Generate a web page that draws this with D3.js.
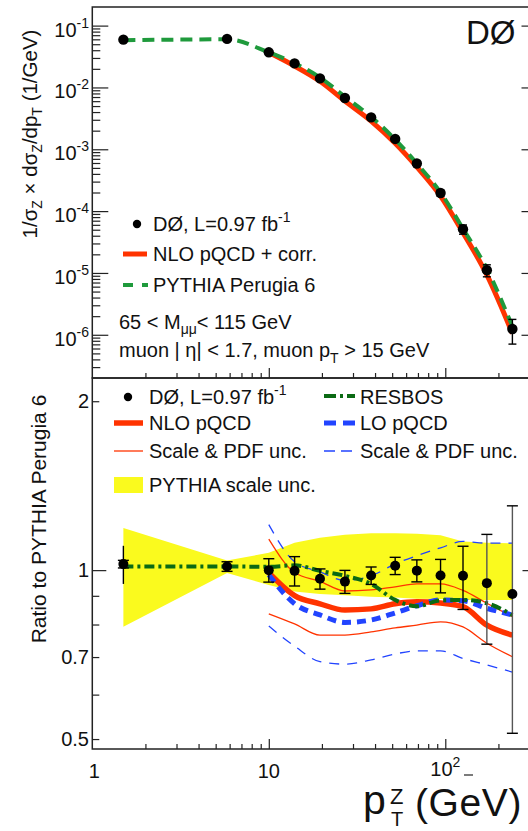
<!DOCTYPE html>
<html>
<head>
<meta charset="utf-8">
<script src="https://cdn.jsdelivr.net/npm/d3@7"></script>
<style>
  body { margin: 0; background: #fff; }
  svg text { font-family: "Liberation Sans", Arial, Helvetica, sans-serif; fill: #111; }
</style>
</head>
<body>
<div id="container"><svg></svg></div>
<script>
let width = 528;
let height = 831;

// bin centres (GeV)
let pt = [1.5, 5.8, 10, 14, 19.5, 27, 38, 52, 69, 94, 126, 172, 240];
// top panel: normalised cross section, data + relative errors
let xsec = [0.0593, 0.061, 0.037, 0.0245, 0.0140, 0.00676, 0.00328, 0.00147, 5.9e-4, 1.96e-4, 5.1e-5, 1.11e-5, 1.24e-6];
let xsecErr = [0.01, 0.01, 0.02, 0.02, 0.02, 0.03, 0.03, 0.04, 0.05, 0.11, 0.17, 0.22, 0.43];
let pythiaTop = [0.0579, 0.060, 0.037, 0.0246, 0.0145, 0.00709, 0.00335, 0.00144, 5.9e-4, 2.0e-4, 5.2e-5, 1.17e-5, 1.37e-6];
// theory curves only from 10 GeV
let ptNlo = [10, 14, 19.5, 27, 38, 52, 69, 94, 126, 172, 240];
let nloTop = [0.0366, 0.0222, 0.0126, 0.00602, 0.00286, 0.00125, 5.18e-4, 1.75e-4, 4.48e-5, 9.3e-6, 1.05e-6];

// bottom panel: ratio to PYTHIA Perugia 6
let ratio = [1.025, 1.015, 1.0, 0.997, 0.965, 0.954, 0.978, 1.018, 0.998, 0.978, 0.977, 0.948, 0.907];
let ratioErr = [0.08, 0.02, 0.048, 0.06, 0.04, 0.045, 0.035, 0.036, 0.045, 0.067, 0.126, 0.21, 0.395];
let ratioStat = [0.016, 0.02, 0.048, 0.06, 0.04, 0.045, 0.035, 0.036, 0.045, 0.067, 0.126, 0.21, 0.395];
let bandHi = [1.189, 1.04, 1.074, 1.119, 1.142, 1.156, 1.163, 1.164, 1.161, 1.154, 1.125, 1.119, 1.117];
let bandLo = [0.793, 0.988, 0.941, 0.916, 0.907, 0.902, 0.897, 0.894, 0.889, 0.888, 0.885, 0.885, 0.885];
let resbos = [1.015, 1.015, 1.014, 1.02, 0.997, 0.977, 0.945, 0.885, 0.862, 0.883, 0.885, 0.873, 0.832];
let nloRatio = [0.99, 0.901, 0.871, 0.849, 0.853, 0.871, 0.878, 0.874, 0.861, 0.798, 0.766];
let nloHi = [1.136, 0.99, 0.955, 0.918, 0.922, 0.934, 0.945, 0.945, 0.920, 0.873, 0.826];
let nloLo = [0.836, 0.802, 0.766, 0.766, 0.776, 0.789, 0.798, 0.809, 0.792, 0.741, 0.701];
let loRatio = [0.981, 0.871, 0.832, 0.807, 0.815, 0.839, 0.864, 0.885, 0.882, 0.855, 0.832];
let loHi = [1.205, 1.035, 0.993, 0.959, 0.977, 1.026, 1.061, 1.096, 1.125, 1.117, 1.117];
let loLo = [0.795, 0.732, 0.687, 0.680, 0.692, 0.709, 0.718, 0.718, 0.696, 0.678, 0.658];

let topTicks = [1e-1, 1e-2, 1e-3, 1e-4, 1e-5, 1e-6];
let topTickExp = ['-1', '-2', '-3', '-4', '-5', '-6'];
let ratioTicks = [2, 1, 0.7, 0.5];
let ratioTickLabels = ['2', '1', '0.7', '0.5'];

let fontFamily = '"Liberation Sans", Arial, sans-serif';
let red = '#ff3300', blue = '#2244ff', green = '#1f9a3c', dgreen = '#0b6a14', yellow = '#fafa1e';

let frame = {left: 92.3, right: 529.5, top: 7, mid: 378, bottom: 749};

let svg = d3.select('#container').select('svg')
    .attr('width', width)
    .attr('height', height);

let x = d3.scaleLog().domain([1, 300]).range([frame.left, frame.right]);
let yTop = d3.scaleLog().domain([2e-7, 0.2]).range([frame.mid, frame.top]);
let yBot = d3.scaleLog().domain([0.48, 2.2]).range([frame.bottom, frame.mid]);

function minorLog(lo, hi) {
    let out = [];
    for (let e = Math.floor(Math.log10(lo)); e <= Math.ceil(Math.log10(hi)); e++) {
        for (let m = 2; m <= 9; m++) {
            let v = m * Math.pow(10, e);
            if (v > lo && v < hi) out.push(v);
        }
    }
    return out;
}

function xTicks(yPos) {
    // minor + major ticks pointing up into the pad
    svg.append('g')
        .attr('transform', `translate(0, ${yPos})`)
        .call(d3.axisBottom(x).tickValues(minorLog(1, 300)).tickSize(-5).tickFormat(''))
        .call(g => g.select('.domain').remove());
    svg.append('g')
        .attr('transform', `translate(0, ${yPos})`)
        .call(d3.axisBottom(x).tickValues([10, 100]).tickSize(-10).tickFormat(''))
        .call(g => g.select('.domain').remove());
}

function draw_top() {
    // left axis ticks
    svg.append('g')
        .attr('transform', `translate(${frame.left}, 0)`)
        .call(d3.axisLeft(yTop).tickValues(minorLog(2e-7, 0.2)).tickSize(-8).tickFormat(''))
        .call(g => g.select('.domain').remove());
    svg.append('g')
        .attr('transform', `translate(${frame.left}, 0)`)
        .call(d3.axisLeft(yTop).tickValues(topTicks).tickSize(-16).tickFormat(''))
        .call(g => g.select('.domain').remove());
    // right side major ticks
    svg.append('g')
        .attr('transform', `translate(${frame.right}, 0)`)
        .call(d3.axisRight(yTop).tickValues(topTicks).tickSize(-8).tickFormat(''))
        .call(g => g.select('.domain').remove());
    xTicks(frame.mid);

    // tick labels 10^-n
    let lab = svg.append('g').selectAll('text')
        .data(topTicks)
        .enter().append('text')
        .attr('x', 89)
        .attr('y', d => yTop(d) + 11)
        .attr('text-anchor', 'end')
        .attr('font-size', 20);
    lab.append('tspan').text('10');
    lab.append('tspan').attr('font-size', 14).attr('dy', -9).text((d, i) => topTickExp[i]);

    // y title
    let yt = svg.append('text')
        .attr('transform', 'translate(37, 134) rotate(-90)')
        .attr('text-anchor', 'middle')
        .attr('font-size', 20.5);
    yt.append('tspan').text('1/σ');
    yt.append('tspan').attr('font-size', 14).attr('dy', 5).text('Z');
    yt.append('tspan').attr('dy', -5).text(' × dσ');
    yt.append('tspan').attr('font-size', 14).attr('dy', 5).text('Z');
    yt.append('tspan').attr('dy', -5).text('/dp');
    yt.append('tspan').attr('font-size', 14).attr('dy', 5).text('T');
    yt.append('tspan').attr('dy', -5).text(' (1/GeV)');

    // curves
    let lineTop = d3.line()
        .x(d => x(d[0]))
        .y(d => yTop(d[1]))
        .curve(d3.curveMonotoneX);
    svg.append('path')
        .datum(ptNlo.map((p, i) => [p, nloTop[i]]))
        .attr('d', lineTop)
        .attr('fill', 'none')
        .attr('stroke', red)
        .attr('stroke-width', 5);
    svg.append('path')
        .datum(pt.map((p, i) => [p, pythiaTop[i]]))
        .attr('d', lineTop)
        .attr('fill', 'none')
        .attr('stroke', green)
        .attr('stroke-width', 4)
        .attr('stroke-dasharray', '12,7');

    // data + error bars
    let pts = pt.map((p, i) => ({p: p, v: xsec[i], e: xsecErr[i]}));
    let eb = svg.append('g').attr('stroke', '#000').attr('stroke-width', 1.4);
    eb.selectAll('.v').data(pts).enter().append('line')
        .attr('x1', d => x(d.p)).attr('x2', d => x(d.p))
        .attr('y1', d => yTop(d.v * (1 + d.e))).attr('y2', d => yTop(d.v * (1 - d.e)));
    eb.selectAll('.c1').data(pts).enter().append('line')
        .attr('x1', d => x(d.p) - 4).attr('x2', d => x(d.p) + 4)
        .attr('y1', d => yTop(d.v * (1 + d.e))).attr('y2', d => yTop(d.v * (1 + d.e)));
    eb.selectAll('.c2').data(pts).enter().append('line')
        .attr('x1', d => x(d.p) - 4).attr('x2', d => x(d.p) + 4)
        .attr('y1', d => yTop(d.v * (1 - d.e))).attr('y2', d => yTop(d.v * (1 - d.e)));
    svg.append('g').selectAll('circle')
        .data(pts)
        .enter().append('circle')
        .attr('cx', d => x(d.p))
        .attr('cy', d => yTop(d.v))
        .attr('r', 5.2)
        .attr('fill', '#000');

    // DØ label
    svg.append('text')
        .attr('x', 466).attr('y', 44)
        .attr('font-size', 33)
        .text('DØ');

    // legend
    svg.append('circle').attr('cx', 137).attr('cy', 224).attr('r', 4.2).attr('fill', '#000');
    let t1 = svg.append('text').attr('x', 153).attr('y', 231).attr('font-size', 20);
    t1.append('tspan').text('DØ, L=0.97 fb');
    t1.append('tspan').attr('font-size', 14).attr('dy', -9).text('-1');
    svg.append('line').attr('x1', 123).attr('x2', 147).attr('y1', 254).attr('y2', 254)
        .attr('stroke', red).attr('stroke-width', 5);
    svg.append('text').attr('x', 153).attr('y', 261).attr('font-size', 20).text('NLO pQCD + corr.');
    svg.append('line').attr('x1', 123).attr('x2', 148).attr('y1', 285).attr('y2', 285)
        .attr('stroke', green).attr('stroke-width', 4).attr('stroke-dasharray', '10,9');
    svg.append('text').attr('x', 153).attr('y', 292).attr('font-size', 20).text('PYTHIA Perugia 6');

    let t2 = svg.append('text').attr('x', 119).attr('y', 329).attr('font-size', 20);
    t2.append('tspan').text('65 < M');
    t2.append('tspan').attr('font-size', 14).attr('dy', 5).text('μμ');
    t2.append('tspan').attr('dy', -5).text('< 115 GeV');
    let t3 = svg.append('text').attr('x', 119).attr('y', 357).attr('font-size', 20);
    t3.append('tspan').text('muon | η| < 1.7, muon p');
    t3.append('tspan').attr('font-size', 14).attr('dy', 6).text('T');
    t3.append('tspan').attr('dy', -6).text(' > 15 GeV');
}

function draw_bottom() {
    // yellow PYTHIA scale band
    let area = d3.area()
        .x(d => x(d[0]))
        .y0(d => yBot(d[1]))
        .y1(d => yBot(d[2]));
    svg.append('path')
        .datum(pt.map((p, i) => [p, bandLo[i], bandHi[i]]))
        .attr('d', area)
        .attr('fill', yellow);

    let lineBot = d3.line()
        .x(d => x(d[0]))
        .y(d => yBot(d[1]))
        .curve(d3.curveMonotoneX);
    function curve(xs, ys, color, w, dash) {
        svg.append('path')
            .datum(xs.map((p, i) => [p, ys[i]]))
            .attr('d', lineBot)
            .attr('fill', 'none')
            .attr('stroke', color)
            .attr('stroke-width', w)
            .attr('stroke-dasharray', dash);
    }
    curve(ptNlo, nloHi, red, 1.3, null);
    curve(ptNlo, nloLo, red, 1.3, null);
    curve(ptNlo, loHi, blue, 1.3, '10,8');
    curve(ptNlo, loLo, blue, 1.3, '10,8');
    curve(ptNlo, nloRatio, red, 5.5, null);
    curve(ptNlo, loRatio, blue, 5, '9,6');
    curve(pt, resbos, dgreen, 4, '10,4,3,4');

    // data points: total error line, caps at stat error
    let pts = pt.map((p, i) => ({p: p, v: ratio[i], e: ratioErr[i], s: ratioStat[i], i: i}));
    let eb = svg.append('g').attr('stroke-width', 1.4);
    let col = d => (d.i >= 11 ? '#555' : '#000');
    eb.selectAll('.v').data(pts).enter().append('line')
        .attr('stroke', col)
        .attr('x1', d => x(d.p)).attr('x2', d => x(d.p))
        .attr('y1', d => yBot(d.v + d.e)).attr('y2', d => yBot(d.v - d.e));
    eb.selectAll('.c1').data(pts).enter().append('line')
        .attr('stroke', '#000')
        .attr('x1', d => x(d.p) - 5.5).attr('x2', d => x(d.p) + 5.5)
        .attr('y1', d => yBot(d.v + d.s)).attr('y2', d => yBot(d.v + d.s));
    eb.selectAll('.c2').data(pts).enter().append('line')
        .attr('stroke', '#000')
        .attr('x1', d => x(d.p) - 5.5).attr('x2', d => x(d.p) + 5.5)
        .attr('y1', d => yBot(d.v - d.s)).attr('y2', d => yBot(d.v - d.s));
    svg.append('g').selectAll('circle')
        .data(pts)
        .enter().append('circle')
        .attr('cx', d => x(d.p))
        .attr('cy', d => yBot(d.v))
        .attr('r', 5)
        .attr('fill', '#000');

    // axes ticks
    svg.append('g')
        .attr('transform', `translate(${frame.left}, 0)`)
        .call(d3.axisLeft(yBot).tickValues([0.5, 0.6, 0.7, 0.8, 0.9, 2]).tickSize(-7).tickFormat(''))
        .call(g => g.select('.domain').remove());
    svg.append('g')
        .attr('transform', `translate(${frame.left}, 0)`)
        .call(d3.axisLeft(yBot).tickValues([1]).tickSize(-14).tickFormat(''))
        .call(g => g.select('.domain').remove());
    svg.append('g')
        .attr('transform', `translate(${frame.right}, 0)`)
        .call(d3.axisRight(yBot).tickValues([1]).tickSize(-7).tickFormat(''))
        .call(g => g.select('.domain').remove());
    xTicks(frame.bottom);

    svg.append('g').selectAll('text')
        .data(ratioTicks)
        .enter().append('text')
        .attr('x', 89)
        .attr('y', d => yBot(d) + 7)
        .attr('text-anchor', 'end')
        .attr('font-size', 20)
        .text((d, i) => ratioTickLabels[i]);

    // x labels
    svg.append('text').attr('x', x(1) + 2).attr('y', 778).attr('text-anchor', 'middle').attr('font-size', 20).text('1');
    svg.append('text').attr('x', x(10)).attr('y', 778).attr('text-anchor', 'middle').attr('font-size', 20).text('10');
    let t100 = svg.append('text').attr('x', x(100) - 15).attr('y', 776).attr('font-size', 20);
    t100.append('tspan').text('10');
    t100.append('tspan').attr('font-size', 14).attr('dy', -9).text('2');
    svg.append('line').attr('x1', 464).attr('x2', 473).attr('y1', 775).attr('y2', 775)
        .attr('stroke', '#222').attr('stroke-width', 1.2);

    // x title, pieces kept apart
    svg.append('text').attr('x', 363).attr('y', 814).attr('font-size', 41).text('p');
    svg.append('text').attr('x', 390).attr('y', 804).attr('font-size', 22).text('Z');
    svg.append('text').attr('x', 391).attr('y', 826).attr('font-size', 20).text('T');
    svg.append('text').attr('x', 415).attr('y', 816).attr('font-size', 39)
        .attr('letter-spacing', 0.6).text('(GeV)');

    // y title
    svg.append('text')
        .attr('transform', 'translate(46, 519) rotate(-90)')
        .attr('text-anchor', 'middle')
        .attr('font-size', 21)
        .text('Ratio to PYTHIA Perugia 6');

    // legend
    svg.append('circle').attr('cx', 128).attr('cy', 397).attr('r', 4.2).attr('fill', '#000');
    let l1 = svg.append('text').attr('x', 149).attr('y', 404).attr('font-size', 20);
    l1.append('tspan').text('DØ, L=0.97 fb');
    l1.append('tspan').attr('font-size', 14).attr('dy', -9).text('-1');
    svg.append('line').attr('x1', 114).attr('x2', 143).attr('y1', 423).attr('y2', 423)
        .attr('stroke', red).attr('stroke-width', 5.5);
    svg.append('text').attr('x', 149).attr('y', 430).attr('font-size', 20).text('NLO pQCD');
    svg.append('line').attr('x1', 114).attr('x2', 143).attr('y1', 451).attr('y2', 451)
        .attr('stroke', red).attr('stroke-width', 1.3);
    svg.append('text').attr('x', 149).attr('y', 458).attr('font-size', 20).text('Scale & PDF unc.');
    svg.append('rect').attr('x', 114).attr('y', 477).attr('width', 29).attr('height', 16).attr('fill', yellow);
    svg.append('text').attr('x', 149).attr('y', 492).attr('font-size', 20).text('PYTHIA scale unc.');

    svg.append('line').attr('x1', 324).attr('x2', 355).attr('y1', 396).attr('y2', 396)
        .attr('stroke', dgreen).attr('stroke-width', 4).attr('stroke-dasharray', '12,4,3,4');
    svg.append('text').attr('x', 360).attr('y', 404).attr('font-size', 20).text('RESBOS');
    svg.append('line').attr('x1', 324).attr('x2', 355).attr('y1', 423).attr('y2', 423)
        .attr('stroke', blue).attr('stroke-width', 5).attr('stroke-dasharray', '12,7');
    svg.append('text').attr('x', 360).attr('y', 430).attr('font-size', 20).text('LO pQCD');
    svg.append('line').attr('x1', 324).attr('x2', 355).attr('y1', 451).attr('y2', 451)
        .attr('stroke', blue).attr('stroke-width', 1.3).attr('stroke-dasharray', '11,6');
    svg.append('text').attr('x', 360).attr('y', 458).attr('font-size', 20).text('Scale & PDF unc.');
}

function draw_frames() {
    svg.append('rect')
        .attr('x', frame.left).attr('y', frame.top)
        .attr('width', frame.right - frame.left).attr('height', frame.mid - frame.top)
        .attr('fill', 'none').attr('stroke', '#222').attr('stroke-width', 1.5);
    svg.append('rect')
        .attr('x', frame.left).attr('y', frame.mid)
        .attr('width', frame.right - frame.left).attr('height', frame.bottom - frame.mid)
        .attr('fill', 'none').attr('stroke', '#222').attr('stroke-width', 1.5);
}

function main() {
    svg.attr('font-family', fontFamily);
    draw_bottom();
    draw_top();
    draw_frames();
    svg.selectAll('.tick line').attr('stroke', '#222').attr('stroke-width', 1.2);
}

main();
</script>
</body>
</html>
